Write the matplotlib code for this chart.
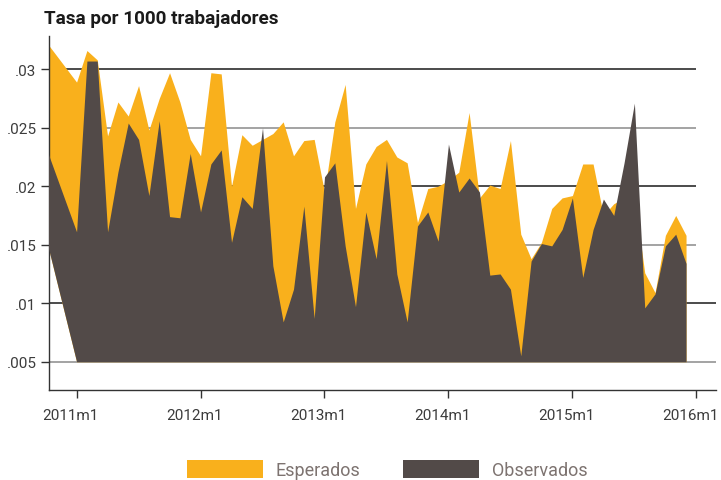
import matplotlib
matplotlib.use("Agg")
import matplotlib.pyplot as plt
import matplotlib.transforms as mtransforms
from matplotlib.patches import Patch
import numpy as np

# months relative to 2011m1 (0 = 2011m1); first point is 2010m10
months = [-3] + list(range(0, 60))

esperados = [0.0324,
    0.0289, 0.0316, 0.0308, 0.0243, 0.0272, 0.0260, 0.0286, 0.0248, 0.0275, 0.0297, 0.0272, 0.0240,
    0.0226, 0.0297, 0.0296, 0.0200, 0.0244, 0.0235, 0.0240, 0.0245, 0.0255, 0.0226, 0.0239, 0.0240,
    0.0195, 0.0255, 0.0287, 0.0181, 0.0219, 0.0234, 0.0240, 0.0225, 0.0220, 0.0169, 0.0198, 0.0200,
    0.0205, 0.0212, 0.0263, 0.0190, 0.0201, 0.0198, 0.0239, 0.0159, 0.0138, 0.0152, 0.0181, 0.0190,
    0.0192, 0.0219, 0.0219, 0.0175, 0.0185, 0.0190, 0.0191, 0.0126, 0.0109, 0.0158, 0.0175, 0.0158]

observados = [0.0234,
    0.0161, 0.0307, 0.0307, 0.0161, 0.0212, 0.0254, 0.0240, 0.0192, 0.0256, 0.0174, 0.0173, 0.0228,
    0.0178, 0.0219, 0.0231, 0.0152, 0.0191, 0.0181, 0.0250, 0.0132, 0.0084, 0.0112, 0.0183, 0.0087,
    0.0208, 0.0220, 0.0149, 0.0097, 0.0178, 0.0138, 0.0222, 0.0125, 0.0084, 0.0166, 0.0178, 0.0153,
    0.0236, 0.0195, 0.0207, 0.0195, 0.0124, 0.0125, 0.0112, 0.0055, 0.0136, 0.0151, 0.0149, 0.0163,
    0.0190, 0.0122, 0.0163, 0.0189, 0.0175, 0.0220, 0.0271, 0.0096, 0.0108, 0.0149, 0.0159, 0.0134]

# base of the filled areas (first point starts higher, as in the original)
base = [0.0157] + [0.005] * 60

xtick_pos = [0, 12, 24, 36, 48, 60]
xtick_labels = ["2011m1", "2012m1", "2013m1", "2014m1", "2015m1", "2016m1"]
ytick_pos = [0.005, 0.01, 0.015, 0.02, 0.025, 0.03]
ytick_labels = [".005", ".01", ".015", ".02", ".025", ".03"]

ORANGE = "#F9B01C"
DARK = "#524A48"
TXT = "#3c3c3c"

plt.rcParams['font.family'] = ['Roboto', 'DejaVu Sans']

fig = plt.figure(figsize=(7.21, 4.81), dpi=100)
ax = fig.add_axes([49/721, 90/481, 667/721, 354/481])

x = np.array(months, dtype=float)
ax.set_xlim(-2.67, 61.9)
ax.set_ylim(0.00258, 0.03284)

# gridlines
grid_colors = {0.005: "#8a8a8a", 0.01: "#1a1a1a", 0.015: "#8a8a8a",
               0.02: "#1a1a1a", 0.025: "#8a8a8a", 0.03: "#1a1a1a"}
for yv in ytick_pos:
    xmax = 61.9 if yv <= 0.01 else 60
    ax.plot([-2.67, xmax], [yv, yv], color=grid_colors[yv], lw=1.1, zorder=1,
            solid_capstyle='butt')

ax.fill_between(x, esperados, base, color=ORANGE, lw=0, zorder=2)
ax.fill_between(x, observados, base, color=DARK, lw=0, zorder=3)

for s in ["top", "right"]:
    ax.spines[s].set_visible(False)
for s in ["left", "bottom"]:
    ax.spines[s].set_color("#333333")
    ax.spines[s].set_linewidth(1.0)

ax.set_xticks(xtick_pos)
ax.set_xticklabels(xtick_labels)
ax.set_yticks(ytick_pos)
ax.set_yticklabels(ytick_labels)
ax.tick_params(axis='x', length=6, width=1, color="#333333", labelsize=11,
               labelcolor=TXT, pad=7)
ax.tick_params(axis='y', length=6, width=1, color="#333333", labelsize=11,
               labelcolor=TXT, pad=3)

shift = mtransforms.ScaledTranslation(-6/100, 0, fig.dpi_scale_trans)
for lbl in ax.get_xticklabels():
    lbl.set_transform(lbl.get_transform() + shift)

fig.text(44/721, 1 - 24/481, "Tasa por 1000 trabajadores", fontsize=13.6,
         fontweight='bold', color="#1a1a1a", ha='left', va='baseline')

handles = [Patch(facecolor=ORANGE, edgecolor='none', label="Esperados"),
           Patch(facecolor=DARK, edgecolor='none', label="Observados")]
leg = fig.legend(handles=handles, loc='center', bbox_to_anchor=(0.537, 0.022),
                 ncol=2, frameon=False, fontsize=13, handlelength=4.2,
                 handleheight=1.2, handletextpad=0.7, columnspacing=2.4)
for t in leg.get_texts():
    t.set_color("#7d7370")

fig.savefig("out.png", dpi=100)
